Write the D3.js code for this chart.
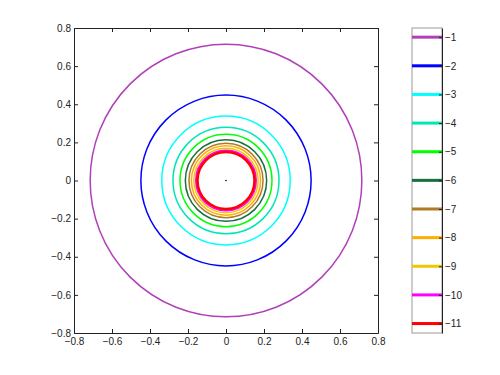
<!DOCTYPE html>
<html>
<head>
<meta charset="utf-8">
<script src="https://cdn.jsdelivr.net/npm/d3@7"></script>
<style>
  body { margin: 0; background: #fff; }
  text { font-family: "Liberation Sans", Arial, sans-serif; font-size: 10px; fill: #222; }
</style>
</head>
<body>
<svg id="chart" width="500" height="375"></svg>
<script>
// contour levels, their radii and colours
var levels = [-1, -2, -3, -4, -5, -6, -7, -8, -9, -10, -11];
var radii = [0.715, 0.448, 0.338, 0.279, 0.242, 0.214, 0.195, 0.182, 0.169, 0.158, 0.15];
var colors = ["#b040b8", "#0000ff", "#00ffff", "#00e6b4", "#00ff00", "#16703e",
              "#b07a28", "#ffad00", "#ecc800", "#ff00ff", "#ff0000"];
var widths = [1.5, 1.5, 1.5, 1.5, 1.5, 1.5, 1.5, 1.5, 1.5, 2, 2.5];
var ticks = [-0.8, -0.6, -0.4, -0.2, 0, 0.2, 0.4, 0.6, 0.8];

var svg = d3.select("#chart");
// plot box (note: "top" is reserved on window, so use pTop)
var pLeft = 74, pRight = 378, pTop = 28, pBottom = 333;

var x = d3.scaleLinear().domain([-0.8, 0.8]).range([pLeft, pRight]);
var y = d3.scaleLinear().domain([-0.8, 0.8]).range([pBottom, pTop]);
var fmt = function(d) { return d === 0 ? "0" : d3.format(".1f")(d).replace("-", "\u2212"); };

var plot = svg.append("g");
plot.selectAll("ellipse").data(levels).enter().append("ellipse")
    .attr("cx", x(0))
    .attr("cy", y(0))
    .attr("rx", function(d, i) { return x(radii[i]) - x(0); })
    .attr("ry", function(d, i) { return y(0) - y(radii[i]); })
    .attr("fill", "none")
    .attr("stroke", function(d, i) { return colors[i]; })
    .attr("stroke-width", function(d, i) { return widths[i]; });

plot.append("circle").attr("cx", x(0)).attr("cy", y(0)).attr("r", 0.8).attr("fill", "#000");

// axes, ticks inward
function axis(gen, tx, ty, withLabels, pad) {
  var g = svg.append("g").attr("transform", "translate(" + tx + "," + ty + ")")
    .call(gen.tickValues(ticks).tickSizeInner(-4).tickSizeOuter(0).tickPadding(pad)
      .tickFormat(withLabels ? fmt : ""));
  g.select(".domain").attr("stroke", "#222");
  g.selectAll(".tick line").attr("stroke", "#222");
  g.selectAll("text").attr("font-size", 10).attr("fill", "#222")
    .attr("font-family", "Liberation Sans, Arial, sans-serif");
  return g;
}
axis(d3.axisBottom(x), 0, pBottom, true, 5);
axis(d3.axisTop(x), 0, pTop, false, 5);
axis(d3.axisLeft(y), pLeft, 0, true, 3);
axis(d3.axisRight(y), pRight, 0, false, 3);

// colour bar legend
var cbL = 412, cbR = 442;
var c = d3.scaleLinear().domain([-11.33, -0.68]).range([pBottom, pTop]);
var cb = svg.append("g");
cb.append("rect").attr("x", cbL).attr("y", pTop).attr("width", cbR - cbL).attr("height", pBottom - pTop)
  .attr("fill", "#fff").attr("stroke", "#999").attr("stroke-width", 1);
cb.selectAll("line.lv").data(levels).enter().append("line")
  .attr("class", "lv")
  .attr("x1", cbL).attr("x2", cbR)
  .attr("y1", function(d) { return c(d); }).attr("y2", function(d) { return c(d); })
  .attr("stroke", function(d, i) { return colors[i]; })
  .attr("stroke-width", 3);
var cg = svg.append("g").attr("transform", "translate(" + cbR + ",0)")
  .call(d3.axisRight(c).tickValues(levels).tickSizeInner(-3).tickSizeOuter(0).tickPadding(3)
    .tickFormat(function(d) { return "\u2212" + Math.abs(d); }));
cg.select(".domain").attr("stroke", "#222");
cg.selectAll(".tick line").attr("stroke", "#222");
cg.selectAll("text").attr("font-size", 10).attr("fill", "#222")
  .attr("font-family", "Liberation Sans, Arial, sans-serif");
</script>
</body>
</html>
